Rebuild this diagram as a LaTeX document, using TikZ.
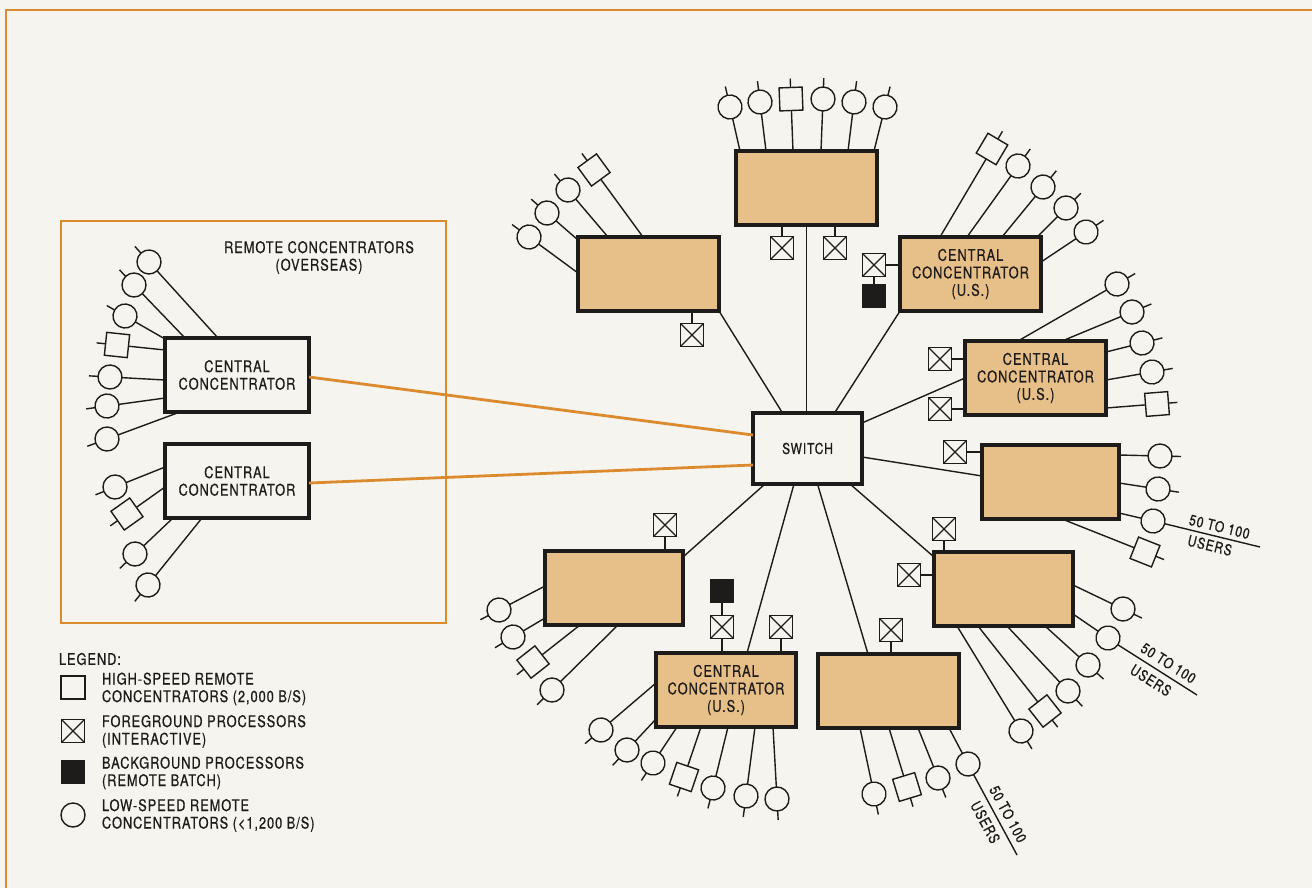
\documentclass[tikz,border=0pt]{standalone}
\usepackage{fontspec}
\setmainfont{TeX Gyre Heros}[FakeStretch=0.8,LetterSpace=6,FakeBold=0.6]
\usetikzlibrary{calc}
\definecolor{bg}{RGB}{246,244,238}
\definecolor{boxtan}{RGB}{231,191,136}
\definecolor{orng}{RGB}{219,139,46}
\definecolor{ink}{RGB}{30,28,26}
\newcommand\bfnt{\fontsize{16}{17.5}\selectfont}
\newcommand\lfnt{\fontsize{15}{16}\selectfont}
% terminal without stub: name, style, box, dx, dy (from box centre, y up), centre x, centre y (pixels, y down)
\newcommand\trmnl[7]{%
  \coordinate (#1s) at ($(#3)+(#4,#5)$);
  \path let \p1=(#1s), \p2=(#6,-#7), \n1={atan2(\y2-\y1,\x2-\x1)} in
    node[#2,rotate=\n1] (#1) at (\p2) {};
  \draw[ln] (#1s) -- (#1);}
% terminal with stub
\newcommand\trmst[7]{%
  \trmnl{#1}{#2}{#3}{#4}{#5}{#6}{#7}%
  \draw[ln] let \p1=(#1s), \p2=(#1), \n1={atan2(\y2-\y1,\x2-\x1)} in
    (#1.east) -- ++(\n1:9);}
\begin{document}
\begin{tikzpicture}[x=1pt,y=1pt,
  every node/.style={inner sep=0pt,outer sep=0pt,text=ink},
  ln/.style={draw=ink,line width=1.4pt},
  tc/.style={circle,draw=ink,line width=1.4pt,minimum size=24pt,fill=bg},
  ts/.style={rectangle,draw=ink,line width=1.4pt,minimum size=23pt,fill=bg},
  xb/.style={rectangle,draw=ink,line width=1.4pt,minimum size=23pt,fill=bg,
    path picture={\draw[ink,line width=1.2pt]
      (path picture bounding box.north west)--(path picture bounding box.south east)
      (path picture bounding box.north east)--(path picture bounding box.south west);}},
  bb/.style={rectangle,draw=ink,fill=ink,line width=1pt,minimum size=23pt},
  cc/.style={rectangle,draw=ink,line width=3.4pt,fill=boxtan,minimum width=141pt,
    minimum height=74pt,align=center,font=\bfnt},
  wc/.style={cc,fill=bg,minimum width=144pt},
  lbl/.style={font=\lfnt},
  txt/.style={font=\bfnt,align=left,anchor=west},
  orl/.style={draw=orng,line width=2.8pt}]
\useasboundingbox (0,0) rectangle (1312,-888);
\fill[bg] (0,0) rectangle (1312,-888);
% frame
\draw[orng,line width=2pt] (1312,-10) -- (6,-10) -- (6,-888);
\node[draw=orng,line width=1.6pt,minimum width=385pt,minimum height=402pt] (ovs) at (253.5,-422) {};
\node[font=\bfnt,align=center] (ovst) at (319,-257.5) {REMOTE CONCENTRATORS\\(OVERSEAS)};
% main boxes
\node[wc] (O1) at (237,-375) {CENTRAL\\CONCENTRATOR};
\node[wc] (O2) at (237,-481) {CENTRAL\\CONCENTRATOR};
\node[cc,fill=bg,minimum width=109pt,minimum height=71pt,font=\lfnt] (SW) at (807.5,-448.5) {SWITCH};
\node[cc] (A) at (648.5,-274) {};
\node[cc] (B) at (806.5,-188) {};
\node[cc] (C) at (970.5,-274) {CENTRAL\\CONCENTRATOR\\(U.S.)};
\node[cc] (D) at (1035.5,-378) {CENTRAL\\CONCENTRATOR\\(U.S.)};
\node[cc,minimum width=137pt] (E) at (1050.5,-482) {};
\node[cc,minimum width=139pt] (F) at (1003.5,-589) {};
\node[cc] (G) at (888.5,-691) {};
\node[cc,minimum width=140pt] (H) at (726,-690) {CENTRAL\\CONCENTRATOR\\(U.S.)};
\node[cc,minimum width=138pt] (I) at (614,-588) {};
% orange links
\draw[orl] ($(O1.east)+(0,-2)$) -- ($(SW.west)+(0,13.5)$);
\draw[orl] ($(O2.east)+(0,-2)$) -- ($(SW.west)+(0,-16.5)$);
% switch links
\draw[ln] (A.south east) -- ($(SW.north)+(-25,0)$);
\draw[ln] (B.south) -- (B.south |- SW.north);
\draw[ln] (C.south west) -- ($(SW.north)+(27,0)$);
\draw[ln] ($(SW.east)+(0,25.5)$) -- (D.west);
\draw[ln] ($(SW.east)+(0,-8.5)$) -- ($(E.west)+(0,6)$);
\draw[ln] ($(SW.south east)+(-12,0)$) -- ($(F.north west)+(0,-5)$);
\draw[ln] ($(SW.south)+(10,0)$) -- ($(G.north west)+(50,0)$);
\draw[ln] ($(SW.south)+(-13.5,0)$) -- ($(H.north)+(21,0)$);
\draw[ln] ($(SW.south west)+(12,0)$) -- ($(I.north east)+(0,-6)$);
% processors
\node[xb] (ax) at (692,-335) {}; \draw[ln] (ax) -- (ax |- A.south);
\node[xb] (bx1) at (782,-248) {}; \draw[ln] (bx1) -- (bx1 |- B.south);
\node[xb] (bx2) at (835,-248) {}; \draw[ln] (bx2) -- (bx2 |- B.south);
\node[xb] (cx) at (874,-265) {}; \draw[ln] (cx) -- (cx -| C.west);
\node[bb] (cbk) at (874,-296) {}; \draw[ln] (cx) -- (cbk);
\node[xb] (dx1) at (940,-359) {}; \draw[ln] (dx1) -- (dx1 -| D.west);
\node[xb] (dx2) at (940,-409) {}; \draw[ln] (dx2) -- (dx2 -| D.west);
\node[xb] (ex) at (955,-452) {}; \draw[ln] (ex) -- (ex -| E.west);
\node[xb] (fx1) at (944,-529) {}; \draw[ln] (fx1) -- (fx1 |- F.north);
\node[xb] (fx2) at (909,-575) {}; \draw[ln] (fx2) -- (fx2 -| F.west);
\node[xb] (gx) at (891,-630) {}; \draw[ln] (gx) -- (gx |- G.north);
\node[xb] (hx1) at (722,-627) {}; \draw[ln] (hx1) -- (hx1 |- H.north);
\node[bb] (hbk) at (722,-591) {}; \draw[ln] (hx1) -- (hbk);
\node[xb] (hx2) at (781,-627) {}; \draw[ln] (hx2) -- (hx2 |- H.north);
\node[xb] (ix) at (665,-525) {}; \draw[ln] (ix) -- (ix |- I.north);
% terminals O1
\trmst{o1a}{tc}{O1}{-19}{37}{149}{262}
\trmst{o1b}{tc}{O1}{-52}{37}{134}{285}
\trmst{o1c}{tc}{O1}{-72}{36}{125}{316}
\trmst{o1d}{ts}{O1}{-72}{25}{117}{345}
\trmst{o1e}{tc}{O1}{-72}{-5}{110}{377}
\trmst{o1f}{tc}{O1}{-72}{-23}{107}{406}
\trmst{o1g}{tc}{O1}{-57}{-37}{107}{439}
% O2
\trmst{o2a}{tc}{O2}{-72}{14}{115}{487}
\trmst{o2b}{ts}{O2}{-72}{-6}{127}{514}
\trmst{o2c}{tc}{O2}{-64}{-37}{135}{554}
\trmst{o2d}{tc}{O2}{-35}{-37}{148}{585}
% A
\trmst{a1}{tc}{A}{-70.5}{1}{529}{237}
\trmst{a2}{tc}{A}{-70.5}{34}{547}{213}
\trmst{a3}{tc}{A}{-40.5}{37}{568}{190}
\trmst{a4}{ts}{A}{-5.5}{37}{594}{170}
% B
\trmst{b1}{tc}{B}{-66.5}{37}{730}{107}
\trmst{b2}{tc}{B}{-40.5}{37}{760}{102}
\trmst{b3}{ts}{B}{-13.5}{37}{791}{99}
\trmst{b4}{tc}{B}{14.5}{37}{823}{99}
\trmst{b5}{tc}{B}{41.5}{37}{854}{102}
\trmst{b6}{tc}{B}{67.5}{37}{885}{107}
% C
\trmst{c1}{ts}{C}{-30.5}{37}{992}{149}
\trmst{c2}{tc}{C}{-3.5}{37}{1018}{166}
\trmst{c3}{tc}{C}{31.5}{37}{1043}{187}
\trmst{c4}{tc}{C}{66.5}{37}{1066}{208}
\trmst{c5}{tc}{C}{70.5}{12}{1086}{232}
% D
\trmst{d1}{tc}{D}{-17.5}{37}{1117}{284}
\trmst{d2}{tc}{D}{26.5}{37}{1132}{312}
\trmst{d3}{tc}{D}{70.5}{26}{1142}{343}
\trmst{d4}{tc}{D}{70.5}{-2}{1152}{372}
\trmst{d5}{ts}{D}{70.5}{-30}{1157}{404}
% E
\trmst{e1}{tc}{E}{68.5}{27}{1160}{456}
\trmst{e2}{tc}{E}{68.5}{-1}{1158}{489}
\trmnl{e3}{tc}{E}{68.5}{-31}{1153}{521}
\trmst{e4}{ts}{E}{11.5}{-37}{1145}{552}
\coordinate (e3end) at (1260,-547);
\draw[ln] (e3.east) -- (e3end)
  node[lbl,pos=0.55,sloped,anchor=south,inner sep=4.5pt] (e3t) {50 TO 100}
  node[lbl,pos=0.5,sloped,anchor=north,inner sep=4.5pt] (e3u) {USERS};
% F
\trmst{f1}{tc}{F}{69.5}{4}{1123}{609}
\trmnl{f2}{tc}{F}{69.5}{-25}{1108}{638}
\trmst{f3}{tc}{F}{41.5}{-37}{1088}{665}
\trmst{f4}{tc}{F}{3.5}{-37}{1068}{691}
\trmst{f5}{ts}{F}{-25.5}{-37}{1045}{711}
\trmst{f6}{tc}{F}{-46.5}{-37}{1021}{731}
\coordinate (f2end) at (1197,-695);
\draw[ln] (f2.east) -- (f2end)
  node[lbl,pos=0.56,sloped,anchor=south,inner sep=6pt] (f2t) {50 TO 100}
  node[lbl,pos=0.5,sloped,anchor=north,inner sep=6.5pt] (f2u) {USERS};
% G
\trmst{g1}{tc}{G}{-28.5}{-37}{874}{794}
\trmst{g2}{ts}{G}{0.5}{-37}{907}{787}
\trmst{g3}{tc}{G}{29.5}{-37}{938}{778}
\trmnl{g4}{tc}{G}{60.5}{-37}{968}{764}
\coordinate (g4end) at (1017,-855);
\draw[ln] (g4.east) -- (g4end)
  node[lbl,pos=0.56,sloped,anchor=south,inner sep=6pt] (g4t) {50 TO 100}
  node[lbl,pos=0.52,sloped,anchor=north,inner sep=6.5pt] (g4u) {USERS};
% H
\trmst{h1}{tc}{H}{-70}{7}{601}{730}
\trmst{h2}{tc}{H}{-70}{-29}{627}{750}
\trmst{h3}{tc}{H}{-49}{-37}{653}{763}
\trmst{h4}{ts}{H}{-25}{-37}{684}{777}
\trmst{h5}{tc}{H}{2}{-37}{713}{788}
\trmst{h6}{tc}{H}{29}{-37}{746}{796}
\trmst{h7}{tc}{H}{47}{-37}{777}{799}
% I
\trmst{i1}{tc}{I}{-69}{2}{499}{610}
\trmst{i2}{tc}{I}{-69}{-30}{513}{637}
\trmst{i3}{ts}{I}{-34}{-37}{533}{662}
\trmst{i4}{tc}{I}{4}{-37}{552}{690}
% legend
\node[txt] (lg) at (59,-659) {LEGEND:};
\node[ts,minimum width=24pt,minimum height=23pt] (lg1) at (73,-687.5) {};
\node[txt] (lg1t) at (102,-689) {HIGH-SPEED REMOTE\\CONCENTRATORS (2,000 B/S)};
\node[xb] (lg2) at (73,-731) {};
\node[txt] (lg2t) at (102,-731.5) {FOREGROUND PROCESSORS\\(INTERACTIVE)};
\node[bb] (lg3) at (73,-771.5) {};
\node[txt] (lg3t) at (102,-773) {BACKGROUND PROCESSORS\\(REMOTE BATCH)};
\node[tc] (lg4) at (73,-815) {};
\node[txt] (lg4t) at (102,-815.5) {LOW-SPEED REMOTE\\CONCENTRATORS (<1,200 B/S)};
\end{tikzpicture}
\end{document}
